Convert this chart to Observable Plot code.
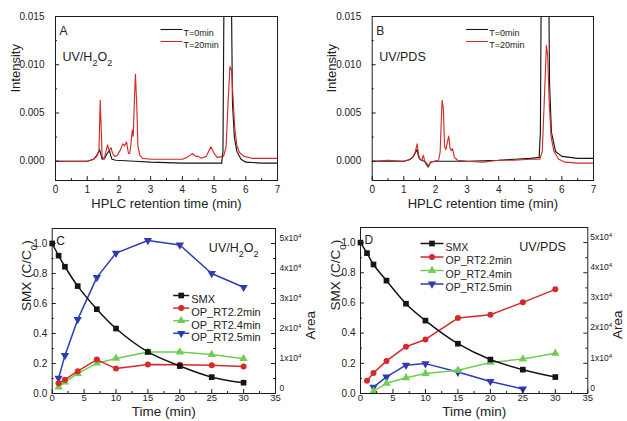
<!DOCTYPE html>
<html><head><meta charset="utf-8">
<script src="https://cdn.jsdelivr.net/npm/d3@7"></script>
<script src="https://cdn.jsdelivr.net/npm/@observablehq/plot@0.6"></script>
<style>
html,body{margin:0;padding:0;background:#fff;}
#wrap{position:relative;width:627px;height:421px;overflow:hidden;background:#fff;}
</style></head><body><div id="wrap"></div>
<script>
// ---------------- data ----------------
// Chromatograms: [retention time (min), intensity]
const chromA_T0 = [[0,0],[0.5,0],[1.0,0],[1.2,0.0002],[1.3,0.0006],[1.39,0.0012],[1.43,0.0007],[1.47,0.0002],[1.55,0.0003],[1.63,0.0008],[1.7,0.0011],[1.74,0.0006],[1.78,0.0002],[1.9,0.0001],[2.5,0],[3.0,-0.0001],[4.0,-0.0002],[5.0,-0.0002],[5.24,-0.0002],[5.28,0.0010],[5.31,0.0160],[5.43,0.0500],[5.55,0.0160],[5.58,0.0060],[5.64,0.0025],[5.72,0.0010],[5.85,0.0002],[6.0,-0.0001],[6.5,-0.0002],[7.0,-0.0002]];
const chromA_T20 = [[0,0],[0.5,0],[1.0,0],[1.2,0.0002],[1.3,0.0005],[1.37,0.0010],[1.41,0.0063],[1.44,0.0035],[1.47,0.0005],[1.53,0.0002],[1.59,0.0010],[1.64,0.0017],[1.69,0.0011],[1.75,0.0014],[1.8,0.0008],[1.87,0.0005],[1.95,0.0006],[2.05,0.0012],[2.12,0.0018],[2.18,0.0016],[2.24,0.0020],[2.3,0.0008],[2.34,0.0008],[2.38,0.0018],[2.42,0.0032],[2.45,0.0026],[2.49,0.0065],[2.52,0.0090],[2.56,0.0060],[2.6,0.0015],[2.66,0.0006],[2.75,0.0003],[3.0,0.0002],[3.5,0.0002],[4.0,0.0002],[4.15,0.0004],[4.32,0.0008],[4.42,0.0005],[4.5,0.0005],[4.6,0.0003],[4.75,0.0005],[4.9,0.0015],[5.0,0.0008],[5.1,0.0004],[5.3,0.0005],[5.38,0.0015],[5.44,0.0060],[5.5,0.0098],[5.55,0.0094],[5.6,0.0065],[5.65,0.0035],[5.72,0.0016],[5.8,0.0009],[5.95,0.0005],[6.2,0.0003],[6.6,0.0003],[7.0,0.0003]];
const chromB_T0 = [[0,0],[0.5,0],[1.0,0],[1.2,0.0002],[1.3,0.0005],[1.42,0.0012],[1.47,0.0004],[1.55,0.0001],[1.65,0],[1.77,-0.0006],[1.85,-0.0001],[2.0,0],[3.0,0],[4.0,0.0001],[4.5,0.0002],[5.0,0.0003],[5.28,0.0004],[5.32,0.0030],[5.35,0.0200],[5.47,0.0500],[5.58,0.0200],[5.61,0.0080],[5.67,0.0030],[5.8,0.0010],[6.0,0.0005],[6.5,0.0003],[7.0,0.0003]];
const chromB_T20 = [[0,0],[0.5,0.0001],[1.0,0],[1.15,0.0001],[1.25,0.0003],[1.35,0.0008],[1.42,0.0018],[1.46,0.0008],[1.5,0.0002],[1.57,0.0001],[1.62,0.0006],[1.66,0],[1.72,-0.0002],[1.78,-0.0005],[1.84,-0.0001],[1.95,0],[2.1,0.0001],[2.15,0.0010],[2.21,0.0063],[2.25,0.0055],[2.29,0.0015],[2.33,0.0012],[2.38,0.0020],[2.42,0.0026],[2.46,0.0014],[2.5,0.0011],[2.54,0.0013],[2.6,0.0004],[2.7,0.0001],[3.0,0],[3.5,-0.0001],[4.0,0.0001],[4.5,0.0001],[5.0,0.0002],[5.3,0.0002],[5.38,0.0010],[5.44,0.0060],[5.51,0.0120],[5.55,0.0110],[5.6,0.0060],[5.66,0.0025],[5.75,0.0010],[5.9,0.0002],[6.1,-0.0001],[6.5,-0.0002],[7.0,-0.0002]];

// Kinetics: time (min), SMX C/C0 and by-product peak areas
const timeSMX = [0, 1, 2, 4, 7, 10, 15, 20, 25, 30];
const smxC = [1.0, 0.919, 0.845, 0.716, 0.562, 0.433, 0.277, 0.183, 0.109, 0.072];
const smxD = [1.0, 0.93, 0.855, 0.748, 0.595, 0.483, 0.33, 0.225, 0.158, 0.109];
const timeOP = [1, 2, 4, 7, 10, 15, 20, 25, 30];
const rt22C = [3450, 4600, 7450, 11300, 8300, 9700, 9600, 9400, 9000];
const rt24C = [2100, 3800, 6600, 10100, 11700, 13800, 13800, 13000, 11600];
const rt25C = [5100, 12700, 24700, 38700, 46800, 51000, 49500, 40000, 35400];
const rt22D = [4200, 6800, 10800, 15500, 17900, 25000, 26100, 30200, 34500];
const timeOP24D = [2, 4, 7, 10, 15, 20, 25, 30];
const rt24D = [700, 3400, 5200, 6600, 7700, 10300, 11400, 13300];
const timeOP25D = [2, 4, 7, 10, 15, 20, 25];
const rt25D = [2100, 5500, 9400, 9900, 7100, 4000, 1500];

// ticks
const chromXTicks = [0, 1, 2, 3, 4, 5, 6, 7];
const chromXMinor = [0.5, 1.5, 2.5, 3.5, 4.5, 5.5, 6.5];
const chromYTicks = [0, 0.005, 0.010, 0.015];
const chromYMinor = [-0.0025, 0.0025, 0.0075, 0.0125];
const timeTicks = [0, 5, 10, 15, 20, 25, 30, 35];
const timeMinor = [2.5, 7.5, 12.5, 17.5, 22.5, 27.5, 32.5];
const smxTicks = [0, 0.2, 0.4, 0.6, 0.8, 1.0];
const smxMinor = [0.1, 0.3, 0.5, 0.7, 0.9];
const areaTicks = [0, 10000, 20000, 30000, 40000, 50000];
const areaMinor = [5000, 15000, 25000, 35000, 45000];
const smxDomain = [0, 1.1];
const areaDomain = [0, 55000];

// ---------------- styling ----------------
const FONT = "Arial, 'Liberation Sans', Helvetica, sans-serif";
const COL = {black: "#151515", red: "#d42a2a", green: "#6fce52", blue: "#2c3db4", frame: "#1e1e1e"};
const STYLE = {fontFamily: FONT, fontSize: "10px", background: "transparent", overflow: "visible", color: "#222"};
const wrap = document.getElementById("wrap");
const hline = w => ({draw(ctx) { ctx.moveTo(-w, 0); ctx.lineTo(w, 0); }});

function place(svg, left, top) {
  svg.style.position = "absolute";
  svg.style.left = left + "px";
  svg.style.top = top + "px";
  wrap.appendChild(svg);
}
function richText(svg, plain, parts) {
  d3.select(svg).selectAll("text").filter(function() { return this.textContent === plain; }).each(function() {
    const t = d3.select(this);
    t.text(null);
    for (const [s, kind] of parts) {
      const ts = t.append("tspan").text(s);
      if (kind === "sub") ts.attr("baseline-shift", "sub").attr("font-size", "72%");
      if (kind === "sup") ts.attr("baseline-shift", "super").attr("font-size", "72%");
    }
  });
}
function fixSup(svg) {
  d3.select(svg).selectAll("text").each(function() {
    const m = /^(\d)x10\^4$/.exec(this.textContent);
    if (m) richText(svg, this.textContent, [[m[1] + "x10", ""], ["4", "sup"]]);
  });
}

// ---------------- chromatogram panels ----------------
function chromPanel(o) {
  const W = o.width, H = 215, mt = 16, mb = 35;
  const fw = W - o.ml - o.mr, fh = H - mt - mb;
  const line = (data, color) => Plot.line(data, {x: d => d[0], y: d => d[1], stroke: color, strokeWidth: 1.15, clip: true});
  const svg = Plot.plot({
    width: W, height: H, marginLeft: o.ml, marginRight: o.mr, marginTop: mt, marginBottom: mb,
    style: STYLE,
    x: {domain: [0, 7]}, y: {domain: [-0.002, 0.015]},
    marks: [
      line(o.t0, COL.black),
      line(o.t20, COL.red),
      Plot.frame({stroke: COL.frame}),
      Plot.tickX(chromXTicks, {x: d => d, insetTop: fh - 4, stroke: COL.frame}),
      Plot.tickX(chromXMinor, {x: d => d, insetTop: fh - 2, stroke: COL.frame}),
      Plot.tickY(chromYTicks, {y: d => d, insetRight: fw - 4, stroke: COL.frame}),
      Plot.tickY(chromYMinor, {y: d => d, insetRight: fw - 2, stroke: COL.frame}),
      Plot.axisX({ticks: chromXTicks, tickSize: 0, tickPadding: 5, fontSize: 10, label: null, tickFormat: d3.format("d")}),
      Plot.axisY({ticks: chromYTicks, tickSize: 0, tickPadding: 11, fontSize: 10, label: null, tickFormat: d3.format(".3f")}),
      Plot.text(["Intensity"], {frameAnchor: "left", rotate: -90, dx: -40, dy: -6, fontSize: 13, fill: "#222"}),
      Plot.text(["HPLC retention time (min)"], {frameAnchor: "bottom", dy: 27, fontSize: 13, fill: "#222"}),
      Plot.text([o.letter], {frameAnchor: "top-left", dx: 4, dy: 10, fontSize: 12, textAnchor: "start", fill: "#222"}),
      Plot.text([o.method], {frameAnchor: "top-left", dx: o.mdx, dy: 36, fontSize: 12.5, textAnchor: "start", fill: "#222"}),
      Plot.dot([0], {frameAnchor: "top-left", dx: o.legX, dy: 13, symbol: hline(11), stroke: COL.black, strokeWidth: 1.1, fill: "none"}),
      Plot.dot([0], {frameAnchor: "top-left", dx: o.legX, dy: 25, symbol: hline(11), stroke: COL.red, strokeWidth: 1.1, fill: "none"}),
      Plot.text(["T=0min"], {frameAnchor: "top-left", dx: o.legX + 12, dy: 13, textAnchor: "start", fontSize: 9, fill: "#222"}),
      Plot.text(["T=20min"], {frameAnchor: "top-left", dx: o.legX + 12, dy: 25, textAnchor: "start", fontSize: 9, fill: "#222"})
    ]
  });
  return svg;
}

const svgA = chromPanel({t0: chromA_T0, t20: chromA_T20, width: 313, ml: 55, mr: 36, letter: "A", method: "UV/H2O2", mdx: 7, legX: 116});
richText(svgA, "UV/H2O2", [["UV/H", ""], ["2", "sub"], ["O", ""], ["2", "sub"]]);
place(svgA, 0, 0);
const svgB = chromPanel({t0: chromB_T0, t20: chromB_T20, width: 314, ml: 58.7, mr: 34, letter: "B", method: "UV/PDS", mdx: 7, legX: 105});
place(svgB, 313, 0);

// ---------------- kinetic panels ----------------
function kineticPanel(o) {
  const W = o.width, H = 206, mt = o.mt, mb = 28;
  const fw = W - o.ml - o.mr, fh = H - mt - mb;
  const toLeft = d3.scaleLinear().domain(areaDomain).range(smxDomain);
  const fmtArea = a => { const n = Math.round(a / 1e4); return n === 0 ? "0" : n + "x10^4"; };
  const series = [
    {name: "SMX", t: timeSMX, v: o.smx, color: COL.black, symbol: "square", r: 3.2, rotate: 0, left: true},
    {name: "OP_RT2.2min", t: o.t22, v: o.rt22, color: COL.red, symbol: "circle", r: 3.0, rotate: 0},
    {name: "OP_RT2.4min", t: o.t24, v: o.rt24, color: COL.green, symbol: "triangle", r: 3.1, rotate: 0},
    {name: "OP_RT2.5min", t: o.t25, v: o.rt25, color: COL.blue, symbol: "triangle", r: 3.1, rotate: 180}
  ];
  const marks = [];
  for (const s of [...series].reverse()) {
    const data = s.t.map((t, i) => ({t, y: s.left ? s.v[i] : toLeft(s.v[i])}));
    marks.push(Plot.line(data, {x: "t", y: "y", stroke: s.color, strokeWidth: 1.5, curve: s.left ? "catmull-rom" : "linear"}));
    marks.push(Plot.dot(data, {x: "t", y: "y", fill: s.color, stroke: "none", symbol: s.symbol, r: s.r, rotate: s.rotate}));
  }
  series.forEach((s, i) => {
    const dy = o.legY + i * o.legStep;
    marks.push(Plot.dot([0], {frameAnchor: "top-left", dx: o.legX, dy, symbol: hline(o.legHalf), stroke: s.color, strokeWidth: 1.5, fill: "none"}));
    marks.push(Plot.dot([0], {frameAnchor: "top-left", dx: o.legX, dy, symbol: s.symbol, r: s.r, rotate: s.rotate, fill: s.color, stroke: "none"}));
    marks.push(Plot.text([s.name], {frameAnchor: "top-left", dx: o.legX + o.legHalf + 2, dy, textAnchor: "start", fontSize: o.legFont, fill: "#222"}));
  });
  const svg = Plot.plot({
    width: W, height: H, marginLeft: o.ml, marginRight: o.mr, marginTop: mt, marginBottom: mb,
    style: STYLE,
    x: {domain: [0, 35]}, y: {domain: smxDomain},
    marks: [
      ...marks,
      Plot.frame({stroke: COL.frame}),
      Plot.tickX(timeTicks, {x: d => d, insetTop: fh - 4, stroke: COL.frame}),
      Plot.tickX(timeMinor, {x: d => d, insetTop: fh - 2, stroke: COL.frame}),
      Plot.tickY(smxTicks, {y: d => d, insetRight: fw - 4, stroke: COL.frame}),
      Plot.tickY(smxMinor, {y: d => d, insetRight: fw - 2, stroke: COL.frame}),
      Plot.tickY(areaTicks.map(toLeft), {y: d => d, insetLeft: fw - 4, stroke: COL.frame}),
      Plot.tickY(areaMinor.map(toLeft), {y: d => d, insetLeft: fw - 2, stroke: COL.frame}),
      Plot.axisX({ticks: timeTicks, tickSize: 0, tickPadding: 0.5, fontSize: 9.5, label: null, tickFormat: d3.format("d")}),
      Plot.axisY({ticks: smxTicks, tickSize: 0, tickPadding: 5, fontSize: 10, label: null, tickFormat: d3.format(".1f")}),
      Plot.axisY({anchor: "right", ticks: areaTicks.map(toLeft), tickSize: 0, tickPadding: o.rpad, dy: -5.5, fontSize: 8.5, label: null, tickFormat: v => fmtArea(toLeft.invert(v))}),
      Plot.text(["SMX (C/C0)"], {frameAnchor: "left", rotate: -90, dx: o.ltdx, fontSize: 13.5, fill: "#222"}),
      Plot.text(["Area"], {frameAnchor: "right", rotate: -90, dx: o.rtdx, fontSize: 13.5, fill: "#222"}),
      Plot.text(["Time (min)"], {frameAnchor: "bottom", dy: 22.5, fontSize: 13.5, fill: "#222"}),
      Plot.text([o.letter], {frameAnchor: "top-left", dx: 4, dy: 8, fontSize: 12, textAnchor: "start", fill: "#222"}),
      Plot.text([o.method], {frameAnchor: "top-right", dx: o.mdx, dy: 15, fontSize: 12.5, textAnchor: "end", fill: "#222"})
    ]
  });
  richText(svg, "SMX (C/C0)", [["SMX (C/C", ""], ["0", "sub"], [")", ""]]);
  fixSup(svg);
  return svg;
}

const svgC = kineticPanel({width: 313, ml: 51.7, mr: 38, mt: 13, smx: smxC,
  t22: timeOP, rt22: rt22C, t24: timeOP, rt24: rt24C, t25: timeOP, rt25: rt25C,
  letter: "C", method: "UV/H2O2", mdx: -17, legX: 129, legY: 67, legStep: 12.6, legHalf: 8, legFont: 11,
  rpad: 4, ltdx: -26, rtdx: 35});
richText(svgC, "UV/H2O2", [["UV/H", ""], ["2", "sub"], ["O", ""], ["2", "sub"]]);
place(svgC, 0, 215);

const svgD = kineticPanel({width: 314, ml: 47, mr: 39.7, mt: 12, smx: smxD,
  t22: timeOP, rt22: rt22D, t24: timeOP24D, rt24: rt24D, t25: timeOP25D, rt25: rt25D,
  letter: "D", method: "UV/PDS", mdx: -22, legX: 71.5, legY: 16, legStep: 13.5, legHalf: 11.5, legFont: 10.5,
  rpad: 2.5, ltdx: -25, rtdx: 30});
place(svgD, 313, 215);
</script></body></html>
